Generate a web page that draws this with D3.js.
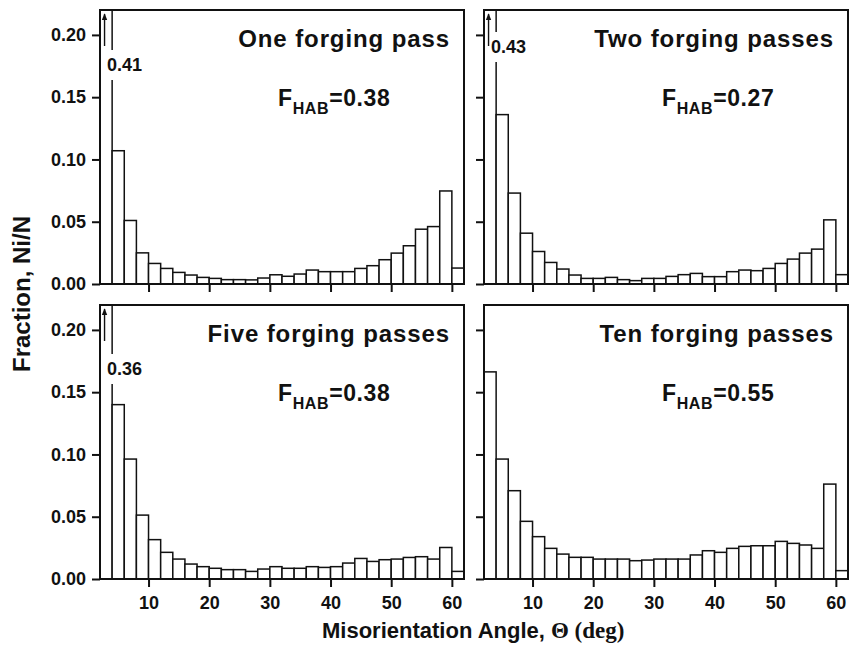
<!DOCTYPE html>
<html>
<head>
<meta charset="utf-8">
<script src="https://cdn.jsdelivr.net/npm/d3@7"></script>
<style>
body { margin: 0; background: #fff; }
text { font-family: "Liberation Sans", Arial, sans-serif; font-weight: bold; fill: #111; }
</style>
</head>
<body>
<div id="chart"></div>
<script>
// bin left edges, degrees (each bin is 2 deg wide)
var binLeft = [2, 4, 6, 8, 10, 12, 14, 16, 18, 20, 22, 24, 26, 28, 30,
               32, 34, 36, 38, 40, 42, 44, 46, 48, 50, 52, 54, 56, 58, 60];

var onePass = [0.41, 0.107, 0.051, 0.025, 0.0165, 0.0125, 0.0093, 0.0072, 0.0053, 0.0045,
               0.0035, 0.0035, 0.0033, 0.0048, 0.0074, 0.0062, 0.008, 0.0112, 0.0099, 0.0099,
               0.0099, 0.0125, 0.0147, 0.0195, 0.0248, 0.0307, 0.044, 0.0461, 0.0747, 0.0128];
var twoPass = [0.43, 0.136, 0.073, 0.0408, 0.0261, 0.0173, 0.012, 0.0072, 0.0045, 0.0045,
               0.0053, 0.0035, 0.0027, 0.0045, 0.0045, 0.0061, 0.0075, 0.0085, 0.0059, 0.0059,
               0.0099, 0.0112, 0.0107, 0.0125, 0.0165, 0.02, 0.0248, 0.028, 0.0515, 0.0075];
var fivePass = [0.36, 0.14, 0.0963, 0.0513, 0.0316, 0.0214, 0.016, 0.012, 0.0099, 0.0086,
                0.0075, 0.0075, 0.0061, 0.008, 0.0099, 0.0086, 0.0086, 0.0099, 0.0093, 0.0099,
                0.0128, 0.0165, 0.0141, 0.0155, 0.016, 0.0173, 0.0179, 0.016, 0.0253, 0.0061];
var tenPass = [0.1663, 0.0963, 0.0709, 0.0463, 0.034, 0.0246, 0.02, 0.0174, 0.0174, 0.016,
               0.016, 0.016, 0.0147, 0.0152, 0.016, 0.016, 0.016, 0.0193, 0.0227, 0.0214,
               0.0246, 0.0262, 0.0267, 0.0267, 0.0302, 0.0286, 0.0273, 0.0246, 0.0762, 0.0067];

var titles = ["One forging pass", "Two forging passes", "Five forging passes", "Ten forging passes"];
var fhab = ["0.38", "0.27", "0.38", "0.55"];
var peakLabels = ["0.41", "0.43", "0.36", null];

var yTicks = [0, 0.05, 0.10, 0.15, 0.20];
var xTicks = [10, 20, 30, 40, 50, 60];

var series = [onePass, twoPass, fivePass, tenPass];

var width = 850, height = 646;
var pw = 364, ph = 274;
// panel positions: left, top, show y labels, show x labels, peak label offset
var layout = [
  {left: 100, top: 10, yl: true, xl: false, peakY: 61},
  {left: 484, top: 10, yl: false, xl: false, peakY: 43},
  {left: 100, top: 305, yl: true, xl: true, peakY: 70},
  {left: 484, top: 305, yl: false, xl: true, peakY: 0}
];

var svg = d3.select("#chart").append("svg")
  .attr("width", width)
  .attr("height", height);

svg.append("defs").append("marker")
  .attr("id", "arrow")
  .attr("viewBox", "0 0 10 10")
  .attr("refX", 9).attr("refY", 5)
  .attr("markerWidth", 5).attr("markerHeight", 7)
  .attr("orient", "auto")
  .append("path")
  .attr("d", "M0,1 L10,5 L0,9 Z")
  .attr("fill", "#111");

var x = d3.scaleLinear().domain([2, 62]).range([0, pw]);
var y = d3.scaleLinear().domain([0, 0.22]).range([ph, 0]);

layout.forEach(function(p, i) {
  var g = svg.append("g").attr("transform", "translate(" + p.left + "," + p.top + ")");
  var data = series[i].map(function(v, k) { return {x0: binLeft[k], v: v}; });

  g.append("clipPath").attr("id", "clip" + i)
    .append("rect").attr("width", pw).attr("height", ph);

  g.append("g").attr("clip-path", "url(#clip" + i + ")")
    .selectAll("rect").data(data).enter().append("rect")
    .attr("x", function(d) { return x(d.x0); })
    .attr("width", function(d) { return x(d.x0 + 2) - x(d.x0); })
    .attr("y", function(d) { return y(Math.min(d.v, 0.23)); })
    .attr("height", function(d) { return ph - y(Math.min(d.v, 0.23)); })
    .attr("fill", "#fff")
    .attr("stroke", "#111")
    .attr("stroke-width", 1.5);

  // off-scale first bar: label and arrow
  if (peakLabels[i]) {
    var lab = g.append("text")
      .attr("x", 7)
      .attr("y", p.peakY)
      .style("font-size", "18px")
      .text(peakLabels[i]);
    var tw = lab.node().getComputedTextLength();
    g.insert("rect", "text")
      .attr("x", 6).attr("y", p.peakY - 21)
      .attr("width", tw + 3).attr("height", 30)
      .attr("fill", "#fff");
    g.append("line")
      .attr("x1", x(2.75)).attr("x2", x(2.75))
      .attr("y1", 36).attr("y2", 4)
      .attr("stroke", "#111")
      .attr("stroke-width", 1.4)
      .attr("marker-end", "url(#arrow)");
  }

  var yAxis = d3.axisLeft(y).tickValues(yTicks).tickSize(8).tickPadding(6)
    .tickFormat(p.yl ? d3.format(".2f") : "");
  var xAxis = d3.axisBottom(x).tickValues(xTicks).tickSize(8).tickPadding(9)
    .tickFormat(p.xl ? d3.format("d") : "");

  var ya = g.append("g").call(yAxis);
  var xa = g.append("g").attr("transform", "translate(0," + ph + ")").call(xAxis);
  [ya, xa].forEach(function(a) {
    a.select(".domain").remove();
    a.selectAll("line").attr("stroke", "#111").attr("stroke-width", 2);
    a.selectAll("text")
      .style("font-size", "18px")
      .style("font-family", "'Liberation Sans', Arial, sans-serif")
      .style("font-weight", "bold")
      .attr("fill", "#111");
  });

  g.append("rect")
    .attr("width", pw).attr("height", ph)
    .attr("fill", "none")
    .attr("stroke", "#111")
    .attr("stroke-width", 2);

  g.append("text")
    .attr("x", pw - 14)
    .attr("y", 37)
    .attr("text-anchor", "end")
    .style("font-size", "24px")
    .style("letter-spacing", "0.9px")
    .text(titles[i]);

  var f = g.append("text")
    .attr("x", 178)
    .attr("y", 96)
    .style("font-size", "23px")
    .style("letter-spacing", "0.6px");
  f.append("tspan").text("F");
  f.append("tspan").attr("dy", 8).style("font-size", "16px").text("HAB");
  f.append("tspan").attr("dy", -8).text("=" + fhab[i]);
});

svg.append("text")
  .attr("transform", "rotate(-90)")
  .attr("x", -294)
  .attr("y", 30)
  .attr("text-anchor", "middle")
  .style("font-size", "24px")
  .text("Fraction, Ni/N");

var xl = svg.append("text")
  .attr("x", 322)
  .attr("y", 638)
  .style("font-size", "22px");
xl.append("tspan").text("Misorientation Angle, ");
xl.append("tspan")
  .style("font-family", "'Liberation Serif', 'Times New Roman', serif")
  .style("font-size", "23px")
  .text("\u0398 (deg)");
</script>
</body>
</html>
